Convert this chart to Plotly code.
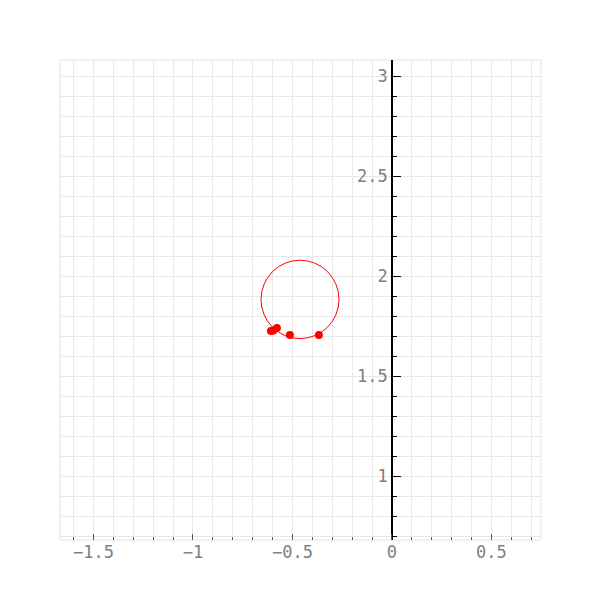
import plotly.graph_objects as go

# data points
px = [-0.608, -0.596, -0.578, -0.513, -0.367]
py = [1.725, 1.728, 1.740, 1.705, 1.705]
# fitted circle
circle_cx = -0.462
circle_cy = 1.883
circle_r = 0.196

x_range = [-1.668, 0.749]
y_range = [0.68, 3.08]

fig = go.Figure()
fig.add_trace(go.Scatter(x=px, y=py, mode="markers",
                         marker=dict(color="#ff0000", size=8), showlegend=False))
fig.add_shape(type="circle", xref="x", yref="y",
              x0=circle_cx - circle_r, x1=circle_cx + circle_r,
              y0=circle_cy - circle_r, y1=circle_cy + circle_r,
              line=dict(color="#ff0000", width=1))
fig.add_shape(type="rect", xref="paper", yref="paper", x0=0, x1=1, y0=0, y1=1,
              line=dict(color="#e4e4e4", width=1), layer="below")

font = dict(family="DejaVu Sans Mono", size=17, color="#808080")
grid = "#e8e8e8"
ypos = (0 - x_range[0]) / (x_range[1] - x_range[0])

fig.update_layout(
    width=600, height=600,
    margin=dict(l=52, r=67, t=52, b=68),
    plot_bgcolor="white", paper_bgcolor="white",
    xaxis=dict(range=x_range, dtick=0.5, tick0=0, ticks="inside", ticklen=6,
               tickcolor="#555555", tickfont=font, showgrid=True, gridcolor=grid,
               zeroline=False, showline=False,
               minor=dict(dtick=0.1, tick0=0, ticks="inside", ticklen=3,
                          tickcolor="#555555", showgrid=True, gridcolor=grid)),
    yaxis=dict(range=y_range, dtick=0.5, tick0=0, ticks="inside", ticklen=8,
               tickcolor="#000000", tickfont=font, showgrid=True, gridcolor=grid,
               zeroline=False, showline=True, linecolor="#000000", linewidth=1.5,
               anchor="free", position=ypos, side="left",
               minor=dict(dtick=0.1, tick0=0, ticks="inside", ticklen=4,
                          tickcolor="#000000", showgrid=True, gridcolor=grid)),
)
fig.write_html("out.html")
